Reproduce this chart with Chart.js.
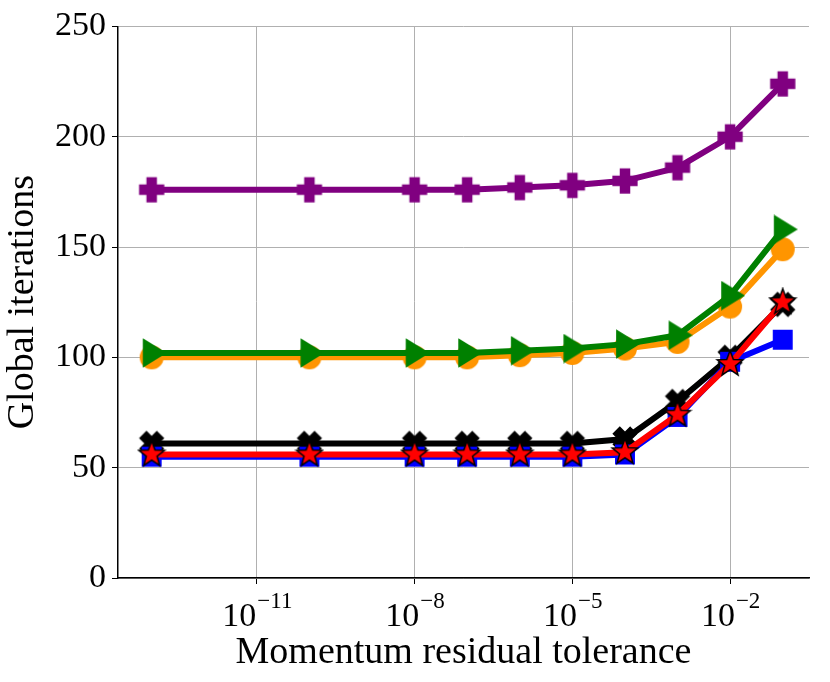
<!DOCTYPE html>
<html><head><meta charset="utf-8">
<script src="https://cdn.jsdelivr.net/npm/chart.js@4/dist/chart.umd.min.js"></script>
<style>body{margin:0;background:#fff}#wrap{width:830px;height:682px}</style>
</head><body><div id="wrap"><canvas id="c"></canvas></div>
<script>
const tolerances = [1e-13, 1e-10, 1e-8, 1e-7, 1e-6, 1e-5, 1e-4, 1e-3, 1e-2, 1e-1];
const purple = [176, 176, 176, 176, 177, 178, 180, 186, 200, 224];
const green = [102, 102, 102, 102, 103, 104, 106, 110, 128, 158];
const orange = [100, 100, 100, 100, 101, 102, 104, 107, 123, 149];
const black = [61, 61, 61, 61, 61, 61, 63, 80, 100, 124];
const blue = [55, 55, 55, 55, 55, 55, 56, 73, 98, 108];
const red = [56, 56, 56, 56, 56, 56, 57, 74, 97, 125];
const xTickExps = [-11, -8, -5, -2];
const yTicks = [0, 50, 100, 150, 200, 250];
const FONT = "'Liberation Serif', serif";

// marker images
function marker(kind, color, s, edge) {
  const c = document.createElement('canvas');
  c.width = c.height = s;
  const g = c.getContext('2d');
  g.translate(s / 2, s / 2);
  g.fillStyle = color;
  g.strokeStyle = edge || color;
  g.lineWidth = 1.5;
  const r = s / 2 - 1.5;
  g.beginPath();
  if (kind === 'circle') g.arc(0, 0, r * 0.9, 0, Math.PI * 2);
  else if (kind === 'square') g.rect(-r * 0.8, -r * 0.8, r * 1.6, r * 1.6);
  else if (kind === 'tri') { g.moveTo(r, 0); g.lineTo(-r * 0.6, -r); g.lineTo(-r * 0.6, r); }
  else if (kind === 'plus' || kind === 'x') {
    if (kind === 'x') g.rotate(Math.PI / 4);
    const w = r * 0.36, L = r * 0.95;
    g.moveTo(-w, -L); g.lineTo(w, -L); g.lineTo(w, -w); g.lineTo(L, -w); g.lineTo(L, w);
    g.lineTo(w, w); g.lineTo(w, L); g.lineTo(-w, L); g.lineTo(-w, w); g.lineTo(-L, w);
    g.lineTo(-L, -w); g.lineTo(-w, -w);
  } else if (kind === 'star') {
    for (let i = 0; i < 10; i++) {
      const rr = i % 2 ? r * 0.42 : r;
      const a = -Math.PI / 2 + i * Math.PI / 5;
      g.lineTo(rr * Math.cos(a), rr * Math.sin(a));
    }
  }
  g.closePath();
  g.fill();
  g.stroke();
  return c;
}

function ds(data, color, kind, size, edge) {
  return {
    data: data.map((v, i) => ({x: tolerances[i], y: v})),
    borderColor: color, backgroundColor: color, borderWidth: 6,
    pointStyle: marker(kind, color, size, edge), pointRadius: size / 2
  };
}

const xLabels = {
  id: 'xLabels',
  afterDraw(chart) {
    const g = chart.ctx, sx = chart.scales.x, y = chart.chartArea.bottom;
    g.save();
    g.fillStyle = '#000';
    g.textBaseline = 'alphabetic';
    xTickExps.forEach(e => {
      const px = sx.getPixelForValue(Math.pow(10, e));
      g.font = '34px ' + FONT;
      const base = '10', sup = '\u2212' + Math.abs(e);
      const w1 = g.measureText(base).width;
      g.font = '23px ' + FONT;
      const w2 = g.measureText(sup).width;
      const x0 = px - (w1 + w2) / 2;
      g.font = '34px ' + FONT;
      g.fillText(base, x0, y + 48);
      g.font = '23px ' + FONT;
      g.fillText(sup, x0 + w1 + 1, y + 30);
    });
    g.restore();
  }
};

// first dataset is drawn on top in Chart.js
new Chart(document.getElementById('c'), {
  type: 'line',
  data: {
    datasets: [
      ds(red, '#ff0000', 'star', 30, '#000'),
      ds(blue, '#0000ff', 'square', 26),
      ds(black, '#000000', 'x', 28),
      ds(green, '#008000', 'tri', 30),
      ds(orange, '#ff9500', 'circle', 28),
      ds(purple, '#800080', 'plus', 28)
    ]
  },
  options: {
    responsive: true, maintainAspectRatio: false, animation: false,
    layout: {padding: {top: 24, right: 20, left: 0, bottom: 0}},
    plugins: {legend: {display: false}, tooltip: {enabled: false}},
    scales: {
      x: {
        type: 'logarithmic', min: Math.pow(10, -13.64), max: Math.pow(10, -0.5),
        afterBuildTicks: s => { s.ticks = xTickExps.map(e => ({value: Math.pow(10, e)})); },
        ticks: {callback: () => '', font: {size: 30, family: FONT}},
        afterFit: s => { s.height = 104; },
        grid: {color: '#b0b0b0', lineWidth: 1, tickLength: 6, tickColor: '#000'},
        border: {color: '#000', width: 1.5},
        title: {display: true, text: 'Momentum residual tolerance', color: '#000',
          font: {size: 38, family: FONT}, padding: {top: 0, bottom: 6}}
      },
      y: {
        min: 0, max: 250,
        afterBuildTicks: s => { s.ticks = yTicks.map(v => ({value: v})); },
        ticks: {color: '#000', font: {size: 34, family: FONT}, padding: 6},
        afterFit: s => { s.width = 118; },
        grid: {color: '#b0b0b0', lineWidth: 1, tickLength: 6, tickColor: '#000'},
        border: {color: '#000', width: 1.5},
        title: {display: true, text: 'Global iterations', color: '#000',
          font: {size: 38, family: FONT}, padding: {top: 0, bottom: 0}}
      }
    }
  },
  plugins: [xLabels]
});
</script></body></html>
